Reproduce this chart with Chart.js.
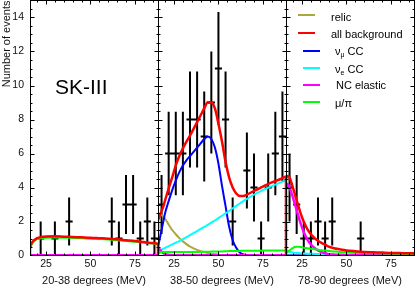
<!DOCTYPE html>
<html>
<head>
<meta charset="utf-8">
<script src="https://cdn.jsdelivr.net/npm/chart.js@4.4.1/dist/chart.umd.min.js"></script>
<style>
  html, body { margin: 0; padding: 0; background: #fff; }
  #wrap { position: relative; width: 415px; height: 286px; overflow: hidden;
          font-family: "Liberation Sans", Arial, sans-serif; color: #000; }
  canvas { position: absolute; top: 0; }
  .txt { position: absolute; font-size: 11px; line-height: 13px; white-space: nowrap; }
  .key { position: absolute; height: 2px; width: 17px; }
  sub { font-size: 7px; line-height: 0; vertical-align: -2px; }
</style>
</head>
<body>
<div id="wrap">
  <canvas id="p1" width="160" height="286" style="left:0px"></canvas>
  <canvas id="p2" width="140" height="286" style="left:150px"></canvas>
  <canvas id="p3" width="137" height="286" style="left:278px"></canvas>

  <div class="txt" style="left:55px; top:75px; font-size:21px; line-height:24px">SK-III</div>

  <div class="key" style="left:298px; top:14px; background:#aaa83c"></div>
  <div class="txt" style="left:331px; top:10.5px">relic</div>
  <div class="key" style="left:298px; top:32px; background:#ff0000"></div>
  <div class="txt" style="left:331px; top:27.5px">all background</div>
  <div class="key" style="left:303px; top:50px; background:#0000ff"></div>
  <div class="txt" style="left:335px; top:45px">&nu;<sub>&mu;</sub> CC</div>
  <div class="key" style="left:303px; top:67px; background:#00ffff"></div>
  <div class="txt" style="left:335px; top:62.5px">&nu;<sub>e</sub> CC</div>
  <div class="key" style="left:303px; top:84px; background:#ff00ff"></div>
  <div class="txt" style="left:336px; top:79px">NC elastic</div>
  <div class="key" style="left:303px; top:101px; background:#00ff00"></div>
  <div class="txt" style="left:335px; top:96.5px">&mu;/&pi;</div>
</div>
<script>
// Energy range of every panel (MeV) and axis labels
const xMin = 16, xMax = 88;
const xTicks = [25, 50, 75];
const yTicks = [0, 2, 4, 6, 8, 10, 12, 14];
const panelTitles = ['20-38 degrees (MeV)', '38-50 degrees (MeV)', '78-90 degrees (MeV)'];

// Data: 4 MeV bins
const binCenters = [18, 22, 26, 30, 34, 38, 42, 46, 50, 54, 58, 62, 66, 70, 74, 78, 82, 86];
const binHalf = 2;
const counts1 = [0, 1, 0, 1, 0, 2, 0, 0, 0, 0, 0, 2, 1, 3, 3, 1, 2, 1];
const errors1 = [0, 1, 0, 1, 0, 1.41, 0, 0, 0, 0, 0, 1.41, 1, 1.73, 1.73, 1, 1.41, 1];
const counts2 = [3, 6, 6, 6, 8, 8, 7, 9, 11, 8, 2, 0, 5, 4, 1, 4, 6, 7];
const errors2 = [1.73, 2.45, 2.45, 2.45, 2.83, 2.83, 2.65, 3, 3.32, 2.83, 1.41, 0, 2.24, 2, 1, 2, 2.45, 2.65];
const counts3 = [4, 3, 1, 1, 2, 1, 2, 0, 0, 0, 1, 0, 0, 0, 0, 0, 0, 0];
const errors3 = [2, 1.73, 1, 1, 1.41, 1, 1.41, 0, 0, 0, 1, 0, 0, 0, 0, 0, 0, 0];

// MC expectations, 20-38 degrees
const energy1 = [16, 17, 18, 19, 20, 22, 25, 30, 35, 40, 45, 50, 55, 60, 65, 70, 75, 80, 85, 88];
const allBg1  = [0.5, 0.75, 0.87, 0.96, 1.02, 1.08, 1.12, 1.13, 1.11, 1.09, 1.07, 1.05, 1.02, 0.99, 0.95, 0.9, 0.85, 0.79, 0.73, 0.7];
const muPi1   = [0.42, 0.66, 0.8, 0.9, 0.96, 1.01, 1.05, 1.06, 1.05, 1.03, 1.01, 0.99, 0.97, 0.94, 0.9, 0.86, 0.81, 0.76, 0.7, 0.67];
const ncEl1   = [0.02, 0.02, 0.02, 0.02, 0.02, 0.02, 0.02, 0.02, 0.02, 0.02, 0.02, 0.02, 0.02, 0.02, 0.02, 0.02, 0.02, 0.02, 0.02, 0.02];
const relic1  = [0, 0, 0, 0, 0, 0, 0, 0, 0, 0, 0, 0, 0, 0, 0, 0, 0, 0, 0, 0];
const numuCC1 = [0, 0, 0, 0, 0, 0, 0, 0, 0, 0, 0, 0, 0, 0, 0, 0, 0, 0, 0, 0];
const nueCC1  = [0, 0, 0, 0, 0, 0, 0, 0, 0, 0, 0, 0, 0, 0, 0, 0, 0, 0, 0, 0];

// MC expectations, 38-50 degrees
const energy2 = [16, 17, 18, 19, 20, 22, 24, 26, 28, 30, 32, 34, 36, 38, 40, 42, 44, 46, 48, 50, 52, 54, 56, 58, 60, 62, 64, 66, 70, 75, 80, 85, 88];
const allBg2  = [2.1, 2.35, 2.6, 2.9, 3.25, 3.95, 4.6, 5.3, 5.85, 6.3, 6.7, 7.05, 7.45, 7.85, 8.25, 8.65, 9.02, 9.0, 8.65, 7.75, 6.7, 5.5, 4.6, 4.0, 3.65, 3.5, 3.5, 3.58, 3.8, 4.05, 4.3, 4.5, 4.65];
const relic2  = [2.45, 2.45, 2.38, 2.28, 2.16, 1.82, 1.5, 1.25, 1.02, 0.83, 0.67, 0.53, 0.42, 0.33, 0.26, 0.2, 0.15, 0.11, 0.08, 0.05, 0.03, 0.02, 0.01, 0, 0, 0, 0, 0, 0, 0, 0, 0, 0];
const numuCC2 = [0.5, 1.0, 1.5, 2.0, 2.5, 3.2, 3.85, 4.4, 4.9, 5.3, 5.6, 5.85, 6.1, 6.35, 6.6, 6.85, 7.0, 6.85, 6.35, 5.4, 4.1, 2.9, 1.7, 0.9, 0.45, 0.18, 0.06, 0.02, 0, 0, 0, 0, 0];
const nueCC2  = [0.25, 0.3, 0.35, 0.4, 0.45, 0.55, 0.65, 0.75, 0.85, 0.97, 1.08, 1.2, 1.32, 1.44, 1.56, 1.68, 1.8, 1.93, 2.06, 2.2, 2.34, 2.48, 2.62, 2.77, 2.92, 3.06, 3.2, 3.33, 3.58, 3.85, 4.08, 4.3, 4.42];
const ncEl2   = [0.5, 0.35, 0.22, 0.13, 0.08, 0.04, 0.02, 0.01, 0.01, 0.01, 0.01, 0.01, 0.01, 0.01, 0.01, 0.01, 0.01, 0.01, 0.01, 0.01, 0.01, 0.01, 0.01, 0.01, 0.01, 0.01, 0.01, 0.01, 0.01, 0.01, 0.01, 0.01, 0.01];
const muPi2   = [0.12, 0.17, 0.2, 0.2, 0.2, 0.2, 0.2, 0.2, 0.2, 0.2, 0.2, 0.21, 0.21, 0.21, 0.21, 0.22, 0.22, 0.23, 0.23, 0.24, 0.24, 0.25, 0.26, 0.26, 0.27, 0.27, 0.28, 0.28, 0.28, 0.29, 0.3, 0.3, 0.3];

// MC expectations, 78-90 degrees
const energy3 = [16, 17, 18, 19, 20, 21, 22, 23, 24, 25, 26, 28, 30, 32, 34, 36, 38, 40, 43, 46, 50, 55, 60, 65, 70, 75, 80, 85, 88];
const allBg3  = [4.55, 4.68, 4.6, 4.3, 3.95, 3.6, 3.25, 2.9, 2.55, 2.25, 1.98, 1.55, 1.25, 1.03, 0.87, 0.74, 0.64, 0.52, 0.43, 0.37, 0.3, 0.25, 0.21, 0.19, 0.17, 0.15, 0.14, 0.13, 0.13];
const ncEl3   = [4.1, 4.2, 4.0, 3.7, 3.38, 3.02, 2.66, 2.3, 1.96, 1.65, 1.37, 0.95, 0.65, 0.45, 0.3, 0.2, 0.13, 0.08, 0.05, 0.03, 0.02, 0.01, 0.01, 0.01, 0.01, 0.01, 0.01, 0.01, 0.01];
const muPi3   = [0.15, 0.22, 0.3, 0.38, 0.45, 0.5, 0.52, 0.52, 0.5, 0.48, 0.46, 0.43, 0.4, 0.37, 0.34, 0.31, 0.29, 0.27, 0.24, 0.21, 0.19, 0.16, 0.14, 0.13, 0.12, 0.11, 0.1, 0.09, 0.09];
const nueCC3  = [0.3, 0.25, 0.22, 0.2, 0.18, 0.16, 0.15, 0.14, 0.13, 0.12, 0.12, 0.11, 0.1, 0.1, 0.09, 0.09, 0.08, 0.08, 0.07, 0.07, 0.06, 0.06, 0.05, 0.05, 0.05, 0.04, 0.04, 0.04, 0.04];
const relic3  = [0, 0, 0, 0, 0, 0, 0, 0, 0, 0, 0, 0, 0, 0, 0, 0, 0, 0, 0, 0, 0, 0, 0, 0, 0, 0, 0, 0, 0];
const numuCC3 = [0, 0, 0, 0, 0, 0, 0, 0, 0, 0, 0, 0, 0, 0, 0, 0, 0, 0, 0, 0, 0, 0, 0, 0, 0, 0, 0, 0, 0];

const colors = {
    relic: '#aaa83c', allBg: '#ff0000', numu: '#0000ff',
    nue: '#00ffff', nc: '#ff00ff', mupi: '#00ff00'
};
const fontFamily = '"Liberation Sans", Arial, sans-serif';

// frame with inward ticks on all four sides of each panel
const frameTicks = {
    id: 'frameTicks',
    afterDraw(chart) {
        const { ctx, chartArea: a, scales: { x, y } } = chart;
        const L = Math.floor(a.left) + 0.5, R = Math.floor(a.right) + 0.5;
        const T = Math.floor(a.top) + 0.5, B = Math.floor(a.bottom) + 0.5;
        ctx.save();
        ctx.strokeStyle = '#000';
        ctx.lineWidth = 1;
        ctx.beginPath();
        for (let v = 0.5; v < y.max; v += 0.5) {
            const py = Math.round(y.getPixelForValue(v)) + 0.5;
            const len = v % 2 === 0 ? 4 : 2;
            ctx.moveTo(L, py); ctx.lineTo(L + len, py);
            ctx.moveTo(R, py); ctx.lineTo(R - len, py);
        }
        for (let v = Math.ceil(x.min / 5) * 5; v < x.max; v += 5) {
            const px = Math.round(x.getPixelForValue(v)) + 0.5;
            const len = xTicks.includes(v) ? 4 : 2;
            ctx.moveTo(px, B); ctx.lineTo(px, B - len);
            ctx.moveTo(px, T); ctx.lineTo(px, T + len);
        }
        ctx.stroke();
        ctx.strokeRect(L, T, R - L, B - T);
        ctx.restore();
    }
};

function curve(energy, values, color, width, order, closed) {
    const pts = energy.map((e, i) => ({ x: e, y: values[i] }));
    if (closed) {
        pts.unshift({ x: energy[0], y: 0 });
        pts.push({ x: energy[energy.length - 1], y: 0 });
    }
    return {
        data: pts, borderColor: color, borderWidth: width, order: order,
        pointRadius: 0, fill: false, cubicInterpolationMode: 'monotone'
    };
}

function errorBars(counts, errors) {
    const pts = [];
    binCenters.forEach((c, i) => {
        if (!counts[i]) return;
        pts.push({ x: c, y: counts[i] - errors[i] }, { x: c, y: counts[i] + errors[i] }, { x: c, y: null });
        pts.push({ x: c - binHalf, y: counts[i] }, { x: c + binHalf, y: counts[i] }, { x: c, y: null });
    });
    return {
        data: pts, borderColor: '#000', borderWidth: 2, order: 10,
        pointRadius: 0, tension: 0, spanGaps: false, fill: false
    };
}

function makePanel(id, title, datasets, showY, pad) {
    return new Chart(document.getElementById(id), {
        type: 'line',
        data: { datasets: datasets },
        options: {
            responsive: false,
            animation: false,
            layout: { padding: { left: pad.left, right: pad.right, top: 0.5, bottom: 0 } },
            plugins: { legend: { display: false }, tooltip: { enabled: false } },
            scales: {
                x: {
                    type: 'linear', min: xMin, max: xMax,
                    afterBuildTicks: s => { s.ticks = xTicks.map(v => ({ value: v })); },
                    afterFit: s => {
                        s.height = 30.5;
                        s.paddingLeft = s.paddingRight = 0;
                    },
                    grid: { display: false, drawTicks: false },
                    border: { display: false },
                    ticks: { color: '#111', padding: 2, maxRotation: 0, autoSkip: false,
                             font: { family: fontFamily, size: 10.5 } },
                    title: { display: true, text: title, color: '#111', padding: { top: 0, bottom: -2 },
                             font: { family: fontFamily, size: 11 } }
                },
                y: {
                    type: 'linear', min: 0, max: 15, display: showY,
                    afterBuildTicks: s => { s.ticks = yTicks.map(v => ({ value: v })); },
                    afterFit: s => {
                        s.width = showY ? 30 : 0;
                        s.paddingTop = s.paddingBottom = 0;
                    },
                    grid: { display: false, drawTicks: false },
                    border: { display: false },
                    ticks: { color: '#111', padding: 6,
                             font: { family: fontFamily, size: 10.5 } },
                    title: { display: true, text: 'Number of events', align: 'end', color: '#111',
                             padding: { top: 0.5, bottom: 0 },
                             font: { family: fontFamily, size: 11 } }
                }
            }
        },
        plugins: [frameTicks]
    });
}

makePanel('p1', panelTitles[0], [
    errorBars(counts1, errors1),
    curve(energy1, relic1, colors.relic, 2, 6),
    curve(energy1, numuCC1, colors.numu, 2, 5),
    curve(energy1, nueCC1, colors.nue, 2, 4),
    curve(energy1, ncEl1, colors.nc, 2.5, 3),
    curve(energy1, muPi1, colors.mupi, 2, 2),
    curve(energy1, allBg1, colors.allBg, 2.5, 1, true)
], true, { left: 0, right: 2 });

makePanel('p2', panelTitles[1], [
    errorBars(counts2, errors2),
    curve(energy2, relic2, colors.relic, 2, 6),
    curve(energy2, numuCC2, colors.numu, 2, 5),
    curve(energy2, nueCC2, colors.nue, 2, 4),
    curve(energy2, ncEl2, colors.nc, 2.5, 3),
    curve(energy2, muPi2, colors.mupi, 2, 2),
    curve(energy2, allBg2, colors.allBg, 2.5, 1, true)
], false, { left: 8, right: 4 });

makePanel('p3', panelTitles[2], [
    errorBars(counts3, errors3),
    curve(energy3, relic3, colors.relic, 2, 6),
    curve(energy3, numuCC3, colors.numu, 2, 5),
    curve(energy3, nueCC3, colors.nue, 2, 4),
    curve(energy3, ncEl3, colors.nc, 2.5, 3),
    curve(energy3, muPi3, colors.mupi, 2, 2),
    curve(energy3, allBg3, colors.allBg, 2.5, 1, true)
], false, { left: 8, right: 1 });
</script>
</body>
</html>
